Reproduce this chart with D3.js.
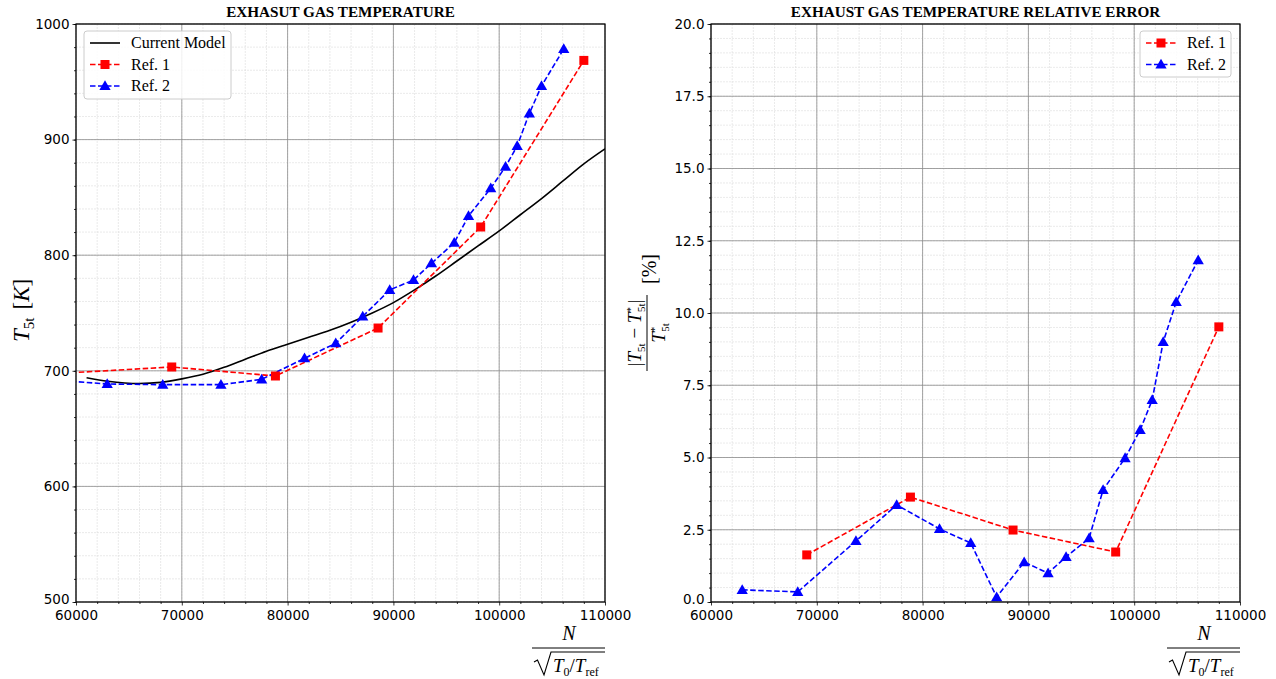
<!DOCTYPE html>
<html>
<head>
<meta charset="utf-8">
<script src="https://cdn.jsdelivr.net/npm/d3@7"></script>
<style>
  body { margin: 0; background: #fff; }
  svg { display: block; }
  .tick text { font-family: "DejaVu Sans", sans-serif; font-size: 13.5px; fill: #000; }
  .serif { font-family: "Liberation Serif", "DejaVu Serif", serif; }
</style>
</head>
<body>
<svg id="chart" width="1276" height="679"></svg>
<script>
// current model (left panel)
var modelN = [61000, 63000, 66000, 68000, 70000, 72000, 74000, 76000, 78000, 80000, 82000, 84000, 86000,
              88000, 90000, 92000, 94000, 96000, 98000, 100000, 102000, 104000, 106000, 108000, 110000];
var modelT = [694, 691, 689, 690, 693, 697, 703, 710, 717, 723, 729, 735, 742,
              750, 759, 770, 782, 795, 808, 821, 835, 849, 864, 879, 892];

// reference 1 (red squares)
var ref1N = [58000, 69050, 78850, 88550, 98250, 108000];
var ref1T = [697.5, 703.3, 695.5, 737, 824.4, 968.5];
var ref1ErrN = [69050, 78850, 88550, 98250, 108000];
var ref1Err = [1.63, 3.63, 2.49, 1.73, 9.52];

// reference 2 (blue triangles)
var ref2N = [58000, 62950, 68200, 73700, 77550, 81600, 84550, 87100, 89650, 91900, 93600, 95750,
             97100, 99200, 100600, 101700, 102850, 104000, 106100];
var ref2T = [692, 688.6, 688, 688, 692.6, 710.8, 723.8, 747, 770, 778.5, 793, 810.8,
             833.9, 857.9, 876.6, 894.5, 922.7, 946.4, 978.4];
var ref2ErrN = [62950, 68200, 73700, 77550, 81600, 84550, 87000, 89600, 91860, 93560, 95740,
                97060, 99140, 100560, 101700, 102740, 103970, 106050];
var ref2Err = [0.42, 0.35, 2.11, 3.36, 2.53, 2.04, 0.17, 1.38, 1.0, 1.56, 2.21,
               3.88, 4.98, 5.95, 6.99, 9.0, 10.38, 11.83];

var xTicks = [60000, 70000, 80000, 90000, 100000, 110000];
var leftYTicks = [500, 600, 700, 800, 900, 1000];
var rightYTicks = [0, 2.5, 5, 7.5, 10, 12.5, 15, 17.5, 20];

var svg = d3.select("#chart");
var plotTop = 24, plotBottom = 602;

function zip(a, b) { return a.map((v, i) => ({ x: v, y: b[i] })); }

function drawPanel(cfg) {
  var g = svg.append("g");
  var x = d3.scaleLinear().domain([60000, 110000]).range([cfg.left, cfg.right]);
  var y = d3.scaleLinear().domain(cfg.yDomain).range([plotBottom, plotTop]);

  // minor grid
  var xMinor = d3.range(60000, 110001, 2000);
  var yMinor = d3.range(cfg.yDomain[0], cfg.yDomain[1] + 1e-9, cfg.yMinorStep);
  g.append("g").selectAll("line").data(xMinor).enter().append("line")
    .attr("x1", d => x(d)).attr("x2", d => x(d)).attr("y1", plotTop).attr("y2", plotBottom)
    .attr("stroke", "#dcdcdc").attr("stroke-width", 0.6).attr("stroke-dasharray", "2,1");
  g.append("g").selectAll("line").data(yMinor).enter().append("line")
    .attr("y1", d => y(d)).attr("y2", d => y(d)).attr("x1", cfg.left).attr("x2", cfg.right)
    .attr("stroke", "#dcdcdc").attr("stroke-width", 0.6).attr("stroke-dasharray", "2,1");
  // major grid
  g.append("g").selectAll("line").data(xTicks).enter().append("line")
    .attr("x1", d => x(d)).attr("x2", d => x(d)).attr("y1", plotTop).attr("y2", plotBottom)
    .attr("stroke", "#8c8c8c").attr("stroke-width", 0.8);
  g.append("g").selectAll("line").data(cfg.yTicks).enter().append("line")
    .attr("y1", d => y(d)).attr("y2", d => y(d)).attr("x1", cfg.left).attr("x2", cfg.right)
    .attr("stroke", "#8c8c8c").attr("stroke-width", 0.8);

  // axes
  g.append("g").attr("transform", `translate(0,${plotBottom})`)
    .call(d3.axisBottom(x).tickValues(xTicks).tickFormat(d3.format("d")).tickSize(3.5).tickPadding(4.5))
    .call(a => a.select(".domain").remove());
  g.append("g").attr("transform", `translate(0,${plotBottom})`)
    .call(d3.axisBottom(x).tickValues(xMinor.filter(v => v % 10000)).tickFormat("").tickSize(2))
    .call(a => a.select(".domain").remove());
  g.append("g").attr("transform", `translate(${cfg.left},0)`)
    .call(d3.axisLeft(y).tickValues(cfg.yTicks).tickFormat(cfg.yFormat).tickSize(3.5).tickPadding(3))
    .call(a => a.select(".domain").remove())
    // lift the bottom label a little so it clears the first x label
    .call(a => a.selectAll(".tick text").filter(d => d === cfg.yDomain[0]).attr("dy", "0.1em"));
  g.append("g").attr("transform", `translate(${cfg.left},0)`)
    .call(d3.axisLeft(y).tickValues(yMinor).tickFormat("").tickSize(2))
    .call(a => a.select(".domain").remove());
  g.selectAll(".tick line").attr("stroke", "#000").attr("stroke-width", 0.8);

  // clip
  svg.append("defs").append("clipPath").attr("id", cfg.id)
    .append("rect").attr("x", cfg.left).attr("y", plotTop)
    .attr("width", cfg.right - cfg.left).attr("height", plotBottom - plotTop);
  var data = g.append("g").attr("clip-path", `url(#${cfg.id})`);

  var line = d3.line().x(d => x(d.x)).y(d => y(d.y));
  if (cfg.model) {
    data.append("path").datum(cfg.model)
      .attr("fill", "none").attr("stroke", "#000").attr("stroke-width", 1.6)
      .attr("d", d3.line().x(d => x(d.x)).y(d => y(d.y)).curve(d3.curveMonotoneX));
  }
  data.append("path").datum(cfg.r1)
    .attr("fill", "none").attr("stroke", "red").attr("stroke-width", 1.6)
    .attr("stroke-dasharray", "5.5,2.5").attr("d", line);
  data.append("path").datum(cfg.r2)
    .attr("fill", "none").attr("stroke", "blue").attr("stroke-width", 1.6)
    .attr("stroke-dasharray", "5.5,2.5").attr("d", line);
  data.selectAll(".sq").data(cfg.r1).enter().append("rect")
    .attr("x", d => x(d.x) - 4.5).attr("y", d => y(d.y) - 4.5)
    .attr("width", 9).attr("height", 9).attr("fill", "red");
  var tri = d3.symbol().type(d3.symbolTriangle).size(55);
  data.selectAll(".tr").data(cfg.r2).enter().append("path")
    .attr("transform", d => `translate(${x(d.x)},${y(d.y) + 0.8})`)
    .attr("d", tri).attr("fill", "blue");

  // frame
  g.append("rect").attr("x", cfg.left).attr("y", plotTop)
    .attr("width", cfg.right - cfg.left).attr("height", plotBottom - plotTop)
    .attr("fill", "none").attr("stroke", "#000").attr("stroke-width", 1.2);

  // title
  g.append("text").attr("class", "serif")
    .attr("x", (cfg.left + cfg.right) / 2).attr("y", 17)
    .attr("text-anchor", "middle").style("font-weight", "bold").style("font-size", "15.2px")
    .text(cfg.title);

  // x label: N / sqrt(T0/Tref)
  var xl = g.append("g").attr("class", "serif").attr("transform", `translate(${cfg.right - 36},0)`);
  xl.append("text").attr("x", 0).attr("y", 640).attr("text-anchor", "middle")
    .style("font-style", "italic").style("font-size", "20px").text("N");
  xl.append("line").attr("x1", -37).attr("x2", 36).attr("y1", 648).attr("y2", 648)
    .attr("stroke", "#000").attr("stroke-width", 1);
  xl.append("path").attr("d", "M-35,662 L-31.5,660 L-25,675 L-18,652 L36,652")
    .attr("fill", "none").attr("stroke", "#000").attr("stroke-width", 1.1);
  var den = xl.append("text").attr("x", -16).attr("y", 672).style("font-size", "19px");
  den.append("tspan").style("font-style", "italic").text("T");
  den.append("tspan").attr("dy", 4).style("font-size", "12px").text("0");
  den.append("tspan").attr("dy", -4).text("/");
  den.append("tspan").style("font-style", "italic").text("T");
  den.append("tspan").attr("dy", 4).style("font-size", "12px").text("ref");

  // legend
  var lg = g.append("g").attr("class", "serif");
  lg.append("rect").attr("x", cfg.legend.x).attr("y", cfg.legend.y)
    .attr("width", cfg.legend.w).attr("height", cfg.legend.h).attr("rx", 3)
    .attr("fill", "#fff").attr("fill-opacity", 0.85).attr("stroke", "#ccc");
  cfg.legend.items.forEach((it, i) => {
    var ly = cfg.legend.y + 12 + i * 21.5;
    var lx = cfg.legend.x + 6;
    var ln = lg.append("line").attr("x1", lx).attr("x2", lx + 30).attr("y1", ly).attr("y2", ly)
      .attr("stroke", it.color).attr("stroke-width", 1.6);
    if (it.marker) ln.attr("stroke-dasharray", "5.5,2.5");
    if (it.marker === "sq")
      lg.append("rect").attr("x", lx + 10.5).attr("y", ly - 4.5).attr("width", 9).attr("height", 9).attr("fill", it.color);
    if (it.marker === "tri")
      lg.append("path").attr("transform", `translate(${lx + 15},${ly + 0.8})`).attr("d", tri).attr("fill", it.color);
    lg.append("text").attr("x", lx + 41).attr("y", ly + 5).style("font-size", "16px").text(it.label);
  });
  return g;
}

drawPanel({
  id: "clipL", left: 76, right: 605, yDomain: [500, 1000], yTicks: leftYTicks, yMinorStep: 20,
  yFormat: d3.format("d"),
  title: "EXHASUT GAS TEMPERATURE",
  model: zip(modelN, modelT), r1: zip(ref1N, ref1T), r2: zip(ref2N, ref2T),
  legend: { x: 84, y: 31, w: 147, h: 68, items: [
    { label: "Current Model", color: "#000" },
    { label: "Ref.  1", color: "red", marker: "sq" },
    { label: "Ref.  2", color: "blue", marker: "tri" }] }
});

drawPanel({
  id: "clipR", left: 711, right: 1240, yDomain: [0, 20], yTicks: rightYTicks, yMinorStep: 0.5,
  yFormat: d3.format(".1f"),
  title: "EXHAUST GAS TEMPERATURE RELATIVE ERROR",
  r1: zip(ref1ErrN, ref1Err), r2: zip(ref2ErrN, ref2Err),
  legend: { x: 1140, y: 31, w: 91, h: 46, items: [
    { label: "Ref.  1", color: "red", marker: "sq" },
    { label: "Ref.  2", color: "blue", marker: "tri" }] }
});

// left y label: T_5t [K]
var yl = svg.append("text").attr("class", "serif")
  .attr("transform", "translate(29,342) rotate(-90)").style("font-size", "23px");
yl.append("tspan").style("font-style", "italic").text("T");
yl.append("tspan").attr("dy", 5).style("font-size", "15px").text("5t");
yl.append("tspan").attr("dy", -5).attr("dx", 8).text("[");
yl.append("tspan").style("font-style", "italic").text("K");
yl.append("tspan").text("]");

// right y label: |T5t - T*5t| / T*5t [%]
var fr = svg.append("g").attr("class", "serif").attr("transform", "translate(647,333) rotate(-90)");
var num = fr.append("text").attr("x", 0).attr("y", -6).attr("text-anchor", "middle").style("font-size", "19px");
num.append("tspan").text("|");
num.append("tspan").style("font-style", "italic").text("T");
num.append("tspan").attr("dy", 4).style("font-size", "11px").text("5t");
num.append("tspan").attr("dy", -4).text(" \u2212 ");
num.append("tspan").style("font-style", "italic").text("T");
num.append("tspan").attr("dy", -7).style("font-size", "11px").text("*");
num.append("tspan").attr("dy", 11).attr("dx", -5).style("font-size", "11px").text("5t");
num.append("tspan").attr("dy", -4).text("|");
fr.append("line").attr("x1", -38).attr("x2", 38).attr("y1", 0).attr("y2", 0).attr("stroke", "#000").attr("stroke-width", 1);
var dn = fr.append("text").attr("x", 0).attr("y", 18).attr("text-anchor", "middle").style("font-size", "19px");
dn.append("tspan").style("font-style", "italic").text("T");
dn.append("tspan").attr("dy", -7).style("font-size", "11px").text("*");
dn.append("tspan").attr("dy", 11).attr("dx", -5).style("font-size", "11px").text("5t");
fr.append("text").attr("x", 49).attr("y", 9).style("font-size", "20px").text("[%]");
</script>
</body>
</html>
